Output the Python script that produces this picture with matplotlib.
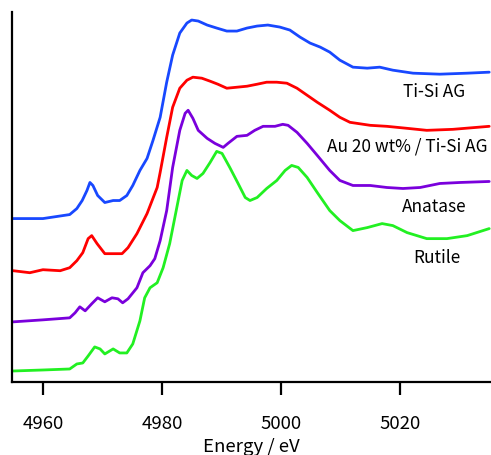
# Ti K-edge XANES spectra, stacked with vertical offsets
import matplotlib
matplotlib.use("Agg")
import matplotlib.pyplot as plt

plt.rcParams['font.family'] = ['Noto Sans CJK JP', 'DejaVu Sans']

# normalized absorbance, per sample
e_tisi = [4955.0, 4960.0, 4964.5, 4965.7, 4966.6, 4967.4, 4967.9, 4968.4, 4969.2, 4970.4,
          4971.8, 4972.9, 4974.1, 4975.1, 4976.3, 4977.5, 4978.5, 4979.7, 4980.8, 4981.8,
          4983.0, 4984.2, 4985.0, 4986.1, 4987.6, 4989.2, 4990.9, 4992.6, 4994.3, 4996.0,
          4997.8, 4999.8, 5001.5, 5003.2, 5004.9, 5006.6, 5008.2, 5009.9, 5012.1, 5014.5,
          5016.6, 5018.8, 5022.2, 5026.7, 5031.3, 5035.0]
mu_tisi = [0.00, 0.00, 0.04, 0.10, 0.18, 0.28, 0.36, 0.33, 0.23, 0.16,
           0.18, 0.18, 0.23, 0.33, 0.48, 0.60, 0.78, 1.01, 1.36, 1.63,
           1.85, 1.95, 1.98, 1.97, 1.93, 1.90, 1.87, 1.87, 1.90, 1.92,
           1.93, 1.91, 1.88, 1.81, 1.75, 1.71, 1.66, 1.58, 1.51, 1.50,
           1.51, 1.48, 1.45, 1.44, 1.45, 1.46]

e_au = [4955.0, 4957.8, 4960.0, 4962.9, 4964.5, 4965.7, 4966.7, 4967.6, 4968.2, 4969.1,
        4970.4, 4971.8, 4973.3, 4974.3, 4975.8, 4977.5, 4979.2, 4979.7, 4980.8, 4981.8,
        4983.0, 4984.2, 4985.2, 4986.7, 4988.1, 4989.4, 4990.9, 4992.6, 4994.3, 4996.0,
        4997.6, 4999.3, 5001.0, 5002.7, 5004.4, 5006.1, 5008.2, 5009.9, 5011.6, 5015.0,
        5017.8, 5021.2, 5024.5, 5028.9, 5035.0]
mu_au = [0.00, -0.02, 0.01, 0.00, 0.03, 0.10, 0.18, 0.32, 0.35, 0.27,
         0.17, 0.17, 0.17, 0.23, 0.37, 0.57, 0.83, 0.98, 1.33, 1.63,
         1.82, 1.90, 1.93, 1.92, 1.89, 1.86, 1.82, 1.83, 1.84, 1.86,
         1.88, 1.88, 1.87, 1.82, 1.75, 1.68, 1.60, 1.53, 1.48, 1.45,
         1.44, 1.42, 1.40, 1.41, 1.44]

e_ana = [4955.0, 4960.0, 4964.5, 4965.4, 4966.2, 4967.1, 4968.2, 4969.2, 4970.4, 4971.6,
         4972.6, 4973.4, 4974.3, 4975.8, 4976.8, 4978.0, 4978.8, 4979.7, 4980.8, 4981.8,
         4983.0, 4983.9, 4984.4, 4985.2, 4986.1, 4987.6, 4988.9, 4990.3, 4991.1, 4992.6,
         4994.3, 4995.6, 4997.0, 4999.0, 5000.3, 5001.2, 5002.7, 5004.4, 5006.1, 5008.2,
         5009.9, 5012.1, 5015.0, 5017.8, 5020.5, 5023.4, 5026.7, 5030.1, 5035.0]
mu_ana = [-0.01, 0.01, 0.03, 0.08, 0.14, 0.10, 0.17, 0.23, 0.19, 0.23,
          0.22, 0.18, 0.22, 0.33, 0.48, 0.55, 0.62, 0.80, 1.10, 1.53,
          1.90, 2.07, 2.10, 2.02, 1.90, 1.82, 1.77, 1.73, 1.77, 1.84,
          1.85, 1.90, 1.94, 1.94, 1.96, 1.95, 1.88, 1.77, 1.65, 1.50,
          1.40, 1.35, 1.35, 1.33, 1.32, 1.33, 1.37, 1.38, 1.39]

e_rut = [4955.0, 4960.0, 4964.5, 4965.7, 4966.7, 4967.6, 4968.7, 4969.6, 4970.4, 4971.8,
         4972.9, 4974.1, 4975.1, 4976.3, 4977.1, 4978.0, 4979.2, 4980.2, 4981.3, 4982.5,
         4983.4, 4984.2, 4985.0, 4985.9, 4986.9, 4988.1, 4989.2, 4990.1, 4991.4, 4992.8,
         4994.0, 4994.8, 4996.0, 4997.6, 4999.3, 5000.7, 5001.8, 5002.9, 5004.4, 5006.1,
         5008.2, 5009.9, 5012.1, 5014.5, 5017.0, 5018.8, 5021.2, 5024.5, 5027.9, 5031.3,
         5035.0]
mu_rut = [-0.01, 0.00, 0.01, 0.06, 0.07, 0.14, 0.23, 0.21, 0.16, 0.21,
          0.17, 0.17, 0.26, 0.49, 0.72, 0.82, 0.87, 1.02, 1.26, 1.62,
          1.89, 1.99, 1.94, 1.91, 1.96, 2.07, 2.18, 2.16, 2.02, 1.86,
          1.72, 1.69, 1.72, 1.81, 1.89, 1.99, 2.04, 2.02, 1.92, 1.77,
          1.59, 1.49, 1.39, 1.42, 1.46, 1.44, 1.37, 1.31, 1.31, 1.34,
          1.41]

names = ["Ti-Si AG", "Au 20 wt% / Ti-Si AG", "Anatase", "Rutile"]
offsets = [1.63, 1.11, 0.61, 0.12]
colors = ["#1848ff", "#ff0000", "#7a00dc", "#22f022"]
# label anchor (energy, height in plot units)
label_x = [5025.7, 5021.3, 5025.7, 5026.2]
label_y = [2.89, 2.35, 1.75, 1.24]

fig = plt.figure(figsize=(4.91, 4.55), dpi=100)
ax = fig.add_axes([0.0244, 0.1604, 0.9756, 0.8132])

data = [(e_tisi, mu_tisi), (e_au, mu_au), (e_ana, mu_ana), (e_rut, mu_rut)]
for (e, mu), off, c in zip(data, offsets, colors):
    ax.plot(e, [m + off for m in mu], color=c, lw=2.0,
            solid_joinstyle='round', solid_capstyle='round')

for name, x, y in zip(names, label_x, label_y):
    ax.text(x, y, name, ha='center', va='center', fontsize=12.4)

ax.set_xlim(4954.8, 5035.3)
ax.set_ylim(0, 3.69)
ax.set_xticks([4960, 4980, 5000, 5020])
ax.set_yticks([])
ax.spines['top'].set_visible(False)
ax.spines['right'].set_visible(False)
ax.spines['left'].set_linewidth(1.6)
ax.spines['bottom'].set_linewidth(1.6)
ax.tick_params(axis='x', direction='out', length=9.5, width=1.6, pad=14, labelsize=13.4)
ax.set_xlabel("Energy / eV", fontsize=13.4, labelpad=4)

fig.savefig("out.png", dpi=100)
